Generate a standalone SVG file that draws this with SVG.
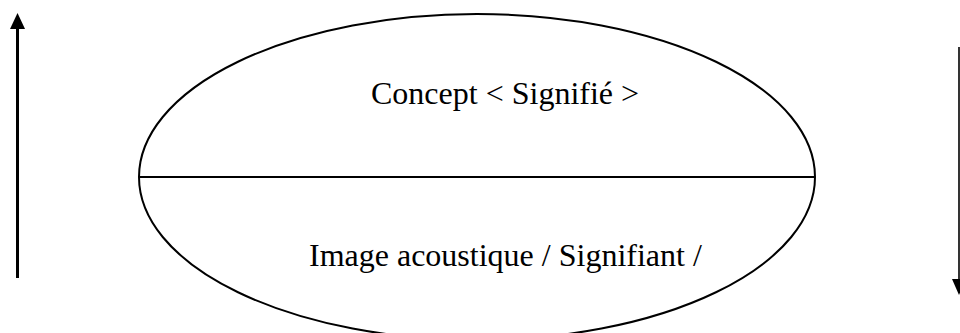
<svg xmlns="http://www.w3.org/2000/svg" width="960" height="333" viewBox="0 0 960 333">
<style>
.shape{fill:none;stroke:#000;stroke-width:2}
.lbl{font-family:"Liberation Serif","Times New Roman",serif;font-size:32px;fill:#000}
.arr{stroke:#000;fill:none}
.head{fill:#000;stroke:none}
</style>
<rect width="960" height="333" fill="#fff"/>
<g id="sign">
<ellipse class="shape" cx="477" cy="177" rx="338" ry="163"/>
<line class="shape" x1="139" y1="177" x2="815" y2="177"/>
</g>
<g id="signifie">
<text class="lbl" x="371" y="104">Concept &lt; Signifié &gt;</text>
</g>
<g id="signifiant">
<text class="lbl" x="309" y="266">Image acoustique / Signifiant /</text>
</g>
<g id="connectors">
<line class="arr" x1="17.5" y1="278" x2="17.5" y2="28" stroke-width="3"/>
<polygon class="head" points="17.5,13 10,29 25,29"/>
<line class="arr" x1="959" y1="47" x2="959" y2="281" stroke-width="1.6"/>
<polygon class="head" points="959,295 952,279 966,279"/>
</g>
</svg>
